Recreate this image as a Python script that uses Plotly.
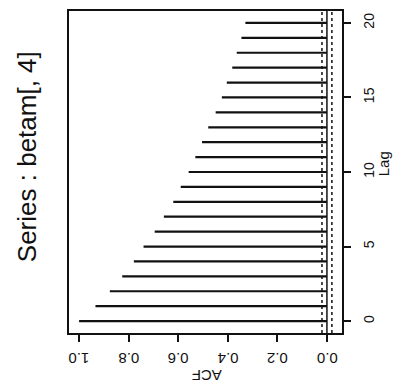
import plotly.graph_objects as go

lags = list(range(21))
acf = [1.0, 0.934, 0.876, 0.826, 0.779, 0.740, 0.695, 0.658, 0.620, 0.590,
       0.558, 0.531, 0.504, 0.479, 0.449, 0.424, 0.404, 0.382, 0.364, 0.345, 0.329]
conf = 0.02
acf_ticks = [0.0, 0.2, 0.4, 0.6, 0.8, 1.0]
acf_ticklabels = ["0.0", "0.2", "0.4", "0.6", "0.8", "1.0"]
lag_ticks = [0, 5, 10, 15, 20]
title_text = "Series : betam[, 4]"

FONT = "Liberation Sans, Arial, sans-serif"
INK = "#111111"

# build segments from the data
xs, ys = [], []
for l, a in zip(lags, acf):
    xs += [0, a, None]
    ys += [l, l, None]

fig = go.Figure()
fig.add_trace(go.Scatter(x=xs, y=ys, mode="lines",
                         line=dict(color=INK, width=2.2), hoverinfo="skip",
                         showlegend=False))

# zero line and confidence limits
fig.add_shape(type="line", x0=0, x1=0, y0=0, y1=1, xref="x", yref="paper",
              line=dict(color=INK, width=1.5))
for c in (conf, -conf):
    fig.add_shape(type="line", x0=c, x1=c, y0=0, y1=1, xref="x", yref="paper",
                  line=dict(color=INK, width=1.5, dash="dot"))

fig.update_xaxes(range=[1.0408, -0.0608], autorange=False,
                 tickvals=acf_ticks, showticklabels=False,
                 ticks="outside", ticklen=7, tickwidth=1.5,
                 tickcolor=INK, showline=True, linewidth=2, linecolor=INK,
                 mirror=True, showgrid=False, zeroline=False)
fig.update_yaxes(range=[-0.8, 20.8], autorange=False,
                 tickvals=lag_ticks, side="right",
                 tickangle=-90, ticks="outside", ticklen=7, tickwidth=1.5,
                 tickcolor=INK, showline=True, linewidth=2, linecolor=INK,
                 mirror=True, showgrid=False, zeroline=False,
                 ticklabelstandoff=6,
                 tickfont=dict(family=FONT, size=14, color=INK))

# upside-down ACF tick labels
for v, t in zip(acf_ticks, acf_ticklabels):
    fig.add_annotation(text=t, textangle=180, showarrow=False,
                       xref="x", yref="paper", x=v, y=-0.077,
                       xanchor="center", yanchor="middle",
                       font=dict(family=FONT, size=15, color=INK))

fig.add_annotation(text=title_text, textangle=-90, showarrow=False,
                   xref="paper", yref="paper", x=-0.154, y=0.549,
                   xanchor="center", yanchor="middle",
                   font=dict(family=FONT, size=26, color=INK))
fig.add_annotation(text="ACF", textangle=180, showarrow=False,
                   xref="paper", yref="paper", x=0.505, y=-0.130,
                   xanchor="center", yanchor="middle",
                   font=dict(family=FONT, size=15, color=INK))
fig.add_annotation(text="Lag", textangle=-90, showarrow=False,
                   xref="paper", yref="paper", x=1.155, y=0.525,
                   xanchor="center", yanchor="middle",
                   font=dict(family=FONT, size=15, color=INK))

fig.update_layout(width=406, height=387,
                  margin=dict(l=69, r=64, t=9, b=54, pad=0),
                  plot_bgcolor="white", paper_bgcolor="white")

fig.write_html("out.html")
